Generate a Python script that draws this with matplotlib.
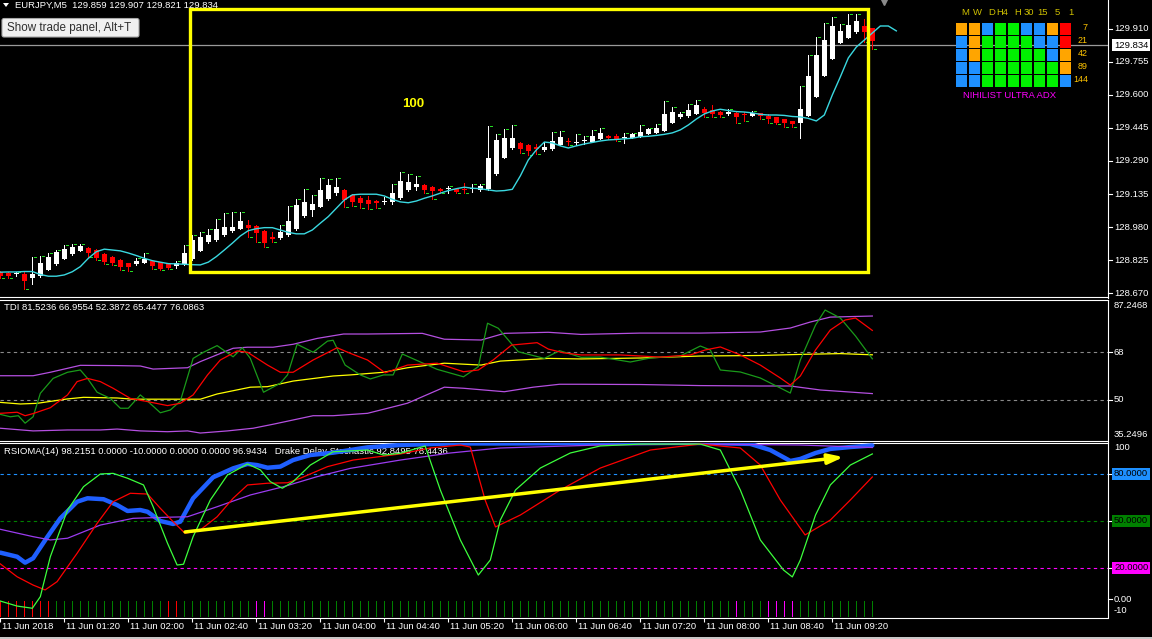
import matplotlib
matplotlib.use('Agg')
import matplotlib.pyplot as plt
import matplotlib.transforms as mtransforms
from matplotlib.patches import Rectangle, FancyBboxPatch, Polygon

W, H, DPI = 1152, 639, 100
FONT = ['Liberation Sans', 'DejaVu Sans']
plt.rcParams['font.family'] = FONT
FS = 6.8
PX = 72.0 / DPI  # one pixel in points

# ---------------- data ----------------
header_text = "EURJPY,M5  129.859 129.907 129.821 129.834"
trade_button = "Show trade panel, Alt+T"

time_labels = ["11 Jun 2018", "11 Jun 01:20", "11 Jun 02:00", "11 Jun 02:40", "11 Jun 03:20",
               "11 Jun 04:00", "11 Jun 04:40", "11 Jun 05:20", "11 Jun 06:00", "11 Jun 06:40",
               "11 Jun 07:20", "11 Jun 08:00", "11 Jun 08:40", "11 Jun 09:20"]
time_label_idx = [0, 8, 16, 24, 32, 40, 48, 56, 64, 72, 80, 88, 96, 104]

opens = [
    128.769, 128.764, 128.760, 128.760, 128.741, 128.750, 128.779, 128.807, 128.830, 128.854,
    128.868, 128.882, 128.872, 128.854, 128.840, 128.825, 128.811, 128.807, 128.811, 128.821,
    128.816, 128.807, 128.797, 128.807, 128.830, 128.868, 128.910, 128.919, 128.943, 128.962,
    128.971, 128.990, 128.985, 128.962, 128.933, 128.929, 128.943, 128.971, 129.032, 129.060,
    129.074, 129.112, 129.140, 129.154, 129.131, 129.117, 129.107, 129.102, 129.096, 129.098,
    129.117, 129.154, 129.168, 129.178, 129.168, 129.159, 129.157, 129.159, 129.156, 129.157,
    129.154, 129.159, 129.229, 129.304, 129.351, 129.375, 129.365, 129.356, 129.342, 129.347,
    129.365, 129.382, 129.376, 129.382, 129.380, 129.394, 129.408, 129.408, 129.396, 129.398,
    129.403, 129.417, 129.422, 129.431, 129.469, 129.497, 129.501, 129.511, 129.534, 129.530,
    129.520, 129.511, 129.516, 129.508, 129.501, 129.516, 129.501, 129.497, 129.487, 129.478,
    129.469, 129.501, 129.591, 129.689, 129.769, 129.844, 129.868, 129.896, 129.924, 129.915,
]
highs = [
    128.774, 128.769, 128.769, 128.769, 128.840, 128.844, 128.858, 128.872, 128.896, 128.900,
    128.900, 128.884, 128.877, 128.858, 128.844, 128.830, 128.811, 128.835, 128.858, 128.821,
    128.816, 128.807, 128.821, 128.896, 128.943, 128.957, 128.971, 129.018, 129.046, 129.051,
    129.051, 129.013, 128.990, 128.966, 128.957, 128.990, 129.079, 129.112, 129.159, 129.131,
    129.210, 129.206, 129.210, 129.159, 129.135, 129.126, 129.126, 129.107, 129.122, 129.182,
    129.239, 129.229, 129.220, 129.182, 129.173, 129.164, 129.173, 129.164, 129.187, 129.182,
    129.182, 129.455, 129.417, 129.441, 129.459, 129.380, 129.370, 129.370, 129.380, 129.426,
    129.431, 129.398, 129.417, 129.408, 129.436, 129.445, 129.412, 129.417, 129.422, 129.422,
    129.459, 129.445, 129.464, 129.572, 129.544, 129.520, 129.558, 129.577, 129.544, 129.553,
    129.525, 129.534, 129.520, 129.520, 129.525, 129.516, 129.511, 129.497, 129.487, 129.478,
    129.642, 129.788, 129.872, 129.938, 129.966, 129.933, 129.980, 129.980, 129.957, 129.915,
]
lows = [
    128.741, 128.741, 128.750, 128.689, 128.713, 128.746, 128.779, 128.802, 128.830, 128.849,
    128.868, 128.840, 128.825, 128.807, 128.802, 128.779, 128.774, 128.802, 128.811, 128.784,
    128.779, 128.784, 128.788, 128.802, 128.825, 128.866, 128.905, 128.915, 128.938, 128.957,
    128.971, 128.933, 128.910, 128.886, 128.910, 128.924, 128.938, 128.966, 129.027, 129.032,
    129.074, 129.107, 129.131, 129.074, 129.079, 129.070, 129.065, 129.070, 129.088, 129.088,
    129.112, 129.149, 129.154, 129.140, 129.112, 129.140, 129.140, 129.140, 129.140, 129.145,
    129.149, 129.154, 129.225, 129.304, 129.347, 129.328, 129.318, 129.323, 129.337, 129.342,
    129.365, 129.365, 129.365, 129.370, 129.380, 129.394, 129.394, 129.384, 129.375, 129.398,
    129.403, 129.417, 129.422, 129.431, 129.469, 129.492, 129.497, 129.511, 129.497, 129.497,
    129.497, 129.506, 129.469, 129.478, 129.501, 129.487, 129.469, 129.464, 129.450, 129.450,
    129.398, 129.501, 129.591, 129.689, 129.769, 129.844, 129.868, 129.891, 129.849, 129.816,
]
closes = [
    128.750, 128.750, 128.762, 128.727, 128.760, 128.811, 128.840, 128.863, 128.877, 128.886,
    128.891, 128.858, 128.835, 128.816, 128.811, 128.793, 128.793, 128.821, 128.830, 128.797,
    128.784, 128.788, 128.811, 128.858, 128.919, 128.933, 128.943, 128.971, 128.980, 128.980,
    129.009, 128.976, 128.952, 128.905, 128.924, 128.957, 129.009, 129.084, 129.098, 129.088,
    129.154, 129.178, 129.168, 129.107, 129.098, 129.093, 129.088, 129.093, 129.100, 129.140,
    129.196, 129.192, 129.182, 129.154, 129.149, 129.149, 129.161, 129.145, 129.152, 129.161,
    129.173, 129.304, 129.389, 129.398, 129.398, 129.347, 129.337, 129.347, 129.356, 129.384,
    129.403, 129.378, 129.380, 129.386, 129.408, 129.422, 129.398, 129.394, 129.400, 129.417,
    129.426, 129.441, 129.445, 129.511, 129.520, 129.511, 129.530, 129.553, 129.516, 129.511,
    129.506, 129.520, 129.497, 129.504, 129.516, 129.501, 129.487, 129.469, 129.469, 129.464,
    129.534, 129.689, 129.788, 129.858, 129.924, 129.901, 129.929, 129.948, 129.896, 129.854,
]
# shifted moving average (extends 3 bars into the future)
ma = [
    128.768, 128.769, 128.769, 128.771, 128.771, 128.757, 128.749, 128.749, 128.755, 128.770,
    128.794, 128.833, 128.864, 128.876, 128.872, 128.868, 128.858, 128.846, 128.833, 128.822,
    128.815, 128.808, 128.807, 128.805, 128.803, 128.802, 128.815, 128.841, 128.872, 128.904,
    128.938, 128.963, 128.972, 128.977, 128.977, 128.966, 128.955, 128.948, 128.948, 128.966,
    128.998, 129.029, 129.068, 129.107, 129.131, 129.134, 129.134, 129.134, 129.126, 129.110,
    129.098, 129.094, 129.102, 129.115, 129.126, 129.139, 129.151, 129.160, 129.167, 129.162,
    129.160, 129.154, 129.149, 129.151, 129.157, 129.220, 129.295, 129.342, 129.379, 129.375,
    129.361, 129.351, 129.361, 129.370, 129.377, 129.384, 129.389, 129.391, 129.394, 129.397,
    129.404, 129.406, 129.410, 129.415, 129.422, 129.436, 129.459, 129.487, 129.511, 129.525,
    129.533, 129.527, 129.522, 129.520, 129.516, 129.509, 129.506, 129.506, 129.504, 129.499,
    129.497, 129.490, 129.478, 129.506, 129.600, 129.685, 129.774, 129.825, 129.858, 129.891,
    129.924, 129.924, 129.901,
]
bid_price = 129.834
price_ticks = [129.910, 129.755, 129.600, 129.445, 129.290, 129.135, 128.980, 128.825, 128.670]
price_ylim = (128.649, 130.046)

box_t0, box_t1 = 23.7, 108.4
box_p0, box_p1 = 128.768, 130.006
box_label, box_label_t, box_label_p = "100", 51.6, 129.558

# TDI
tdi_title = "TDI 81.5236 66.9554 52.3872 65.4477 76.0863"
tdi_up_t = [0, 4.1, 6.25, 10, 14.6, 17.5, 19.1, 23.4, 25, 29.1, 30.9, 34.1, 36.6, 39.6, 42.9, 45.9, 50,
            52.75, 55.5, 60.1, 63, 68.5, 72.6, 80, 87.5, 95, 98.75, 101.25, 103.75, 109]
tdi_up_v = [59.1, 59.1, 60.4, 63.0, 62.9, 62.75, 61.6, 62.1, 64.4, 69.4, 69.8, 69.8, 70.9, 73.1, 74.75,
            74.75, 74.9, 75.0, 72.8, 72.5, 75.0, 75.4, 74.6, 75.1, 75.1, 75.5, 77.0, 79.25, 81.1, 81.5]
tdi_lo_t = [0, 4.1, 8.4, 12.5, 14.6, 17.5, 20.9, 23.4, 25, 28.4, 31.6, 34.1, 36.6, 39.1, 41.6, 45.9, 50,
            50.9, 55.5, 57.9, 63, 66.6, 69.9, 72.6, 80, 87.5, 95, 98.75, 102.5, 109]
tdi_lo_v = [39.4, 38.4, 38.75, 38.75, 39.1, 38.4, 38.1, 38.4, 37.6, 38.4, 39.4, 40.9, 42.5, 44.1, 44.1,
            45.0, 48.1, 48.8, 54.8, 54.4, 53.1, 54.8, 55.9, 55.9, 55.8, 55.4, 55.25, 55.25, 53.75, 52.4]
tdi_mid_t = [0, 2.5, 4.6, 8.4, 10.4, 14.6, 16.6, 25, 27.1, 31.25, 33.4, 36.6, 41.6, 43.75, 47.9, 50.9,
             55.5, 60.1, 62.5, 68.5, 72.6, 80, 87.5, 95, 100, 105, 109]
tdi_mid_v = [49.1, 48.5, 48.75, 50.4, 51.0, 50.75, 50.3, 50.3, 52.25, 54.8, 55.0, 57.1, 59.0, 59.4, 60.4,
             62.1, 63.8, 63.1, 64.6, 65.6, 65.4, 65.75, 66.5, 66.7, 67.1, 67.4, 66.95]
tdi_sig_t = [0, 2.1, 3.1, 4.1, 6.25, 8.4, 9.6, 10.9, 12.5, 14.1, 16.25, 18.4, 20.9, 22.5, 24.1, 25.9, 27.5,
             29.6, 30.9, 33.4, 35, 36.6, 39.1, 42.1, 43.75, 45.9, 48.1, 50.9, 54.6, 57.9, 59.75, 61.6,
             63.9, 67.1, 68.5, 70.4, 72.6, 77.5, 82.5, 86.25, 88.1, 90, 92.5, 95, 97.5, 98.75, 100,
             101.9, 103.75, 105.6, 106.9, 109]
tdi_sig_v = [45.0, 45.4, 44.1, 44.9, 47.1, 51.9, 56.9, 58.1, 56.9, 54.4, 50.6, 49.4, 47.9, 48.75, 51.9,
             59.4, 65.0, 68.4, 67.9, 63.1, 60.4, 60.4, 65.0, 69.6, 67.5, 65.0, 60.2, 63.1, 63.8, 60.6,
             61.25, 65.0, 70.6, 71.5, 69.1, 67.7, 66.9, 66.9, 66.1, 66.9, 68.75, 69.9, 66.9, 63.1,
             58.25, 55.6, 59.0, 68.75, 76.25, 80.0, 80.75, 76.1]
tdi_rsi_t = [0, 1.25, 2.25, 3.1, 4.1, 5, 6.6, 8.4, 10, 10.9, 12.1, 13.75, 15, 16, 17.5, 18.4, 20, 21.25,
             22.5, 24.1, 25.4, 27.1, 29.1, 30.25, 31.25, 32.9, 35, 35.9, 37.1, 39.1, 40.9, 41.6, 43.1,
             45, 46.25, 47.9, 49.1, 50.25, 52.4, 54.6, 57.9, 59.75, 60.9, 62.25, 64.75, 68, 69.9, 72.6,
             75, 78.75, 81.25, 85, 87.5, 88.75, 90, 92.5, 95, 97.5, 98.75, 100, 101.9, 103.1, 105,
             106.9, 109]
tdi_rsi_v = [44.6, 43.7, 44.1, 41.3, 43.7, 52.5, 58.1, 60.4, 61.25, 58.1, 52.9, 50.6, 46.9, 46.9, 51.9,
             49.6, 45.2, 46.25, 49.6, 65.6, 67.9, 70.4, 66.2, 69.6, 65.6, 52.9, 56.3, 59.4, 70.9, 67.9,
             72.1, 72.4, 63.1, 59.4, 57.9, 59.4, 59.4, 67.25, 64.4, 61.5, 58.7, 62.5, 78.8, 76.9, 68.1,
             65.6, 68.5, 66.0, 66.1, 64.25, 65.75, 66.5, 70.25, 68.75, 61.25, 60.5, 58.25, 54.5, 52.6,
             65.0, 78.1, 83.75, 80.75, 74.0, 65.45]
tdi_levels = [68, 50]
tdi_ylim = (34.8, 87.7)

# RSIOMA + Drake Delay Stochastic
rsi_title = "RSIOMA(14) 98.2151 0.0000 -10.0000 0.0000 0.0000 96.9434   Drake Delay Stochastic 92.8495 78.4436"
rsioma_t = [0, 2.1, 3.1, 4.1, 5.9, 7.5, 9.6, 10.9, 12.9, 14.6, 15.9, 17.5, 18.4, 20, 21.6, 22.5, 24.1,
            26.6, 29.1, 30.9, 32.1, 33.4, 35, 36.6, 38.75, 41.6, 45.9, 50, 56.25, 62.5, 75, 87.5, 93.75,
            96.25, 98.75, 100, 101.9, 103.75, 106.25, 109]
rsioma_v = [29.8, 27.2, 23.4, 26.2, 40.0, 51.7, 62.3, 64.5, 63.9, 60.2, 56.4, 57.0, 55.9, 50.0, 48.1,
            49.6, 64.5, 77.9, 83.6, 86.4, 85.7, 84.0, 84.7, 88.9, 92.1, 93.6, 97.0, 98.5, 99.5, 99.5,
            99.8, 99.8, 99.2, 95.3, 88.3, 89.6, 93.4, 96.0, 97.2, 98.2]
rsioma_ma_t = [0, 4.1, 6.25, 8.4, 12.5, 16.6, 20.9, 23.4, 27.1, 31.25, 35.4, 39.6, 43.75, 50, 56.25,
               62.5, 75, 87.5, 100, 109]
rsioma_ma_v = [44.7, 40.0, 37.9, 39.0, 47.4, 51.7, 52.4, 52.7, 59.1, 66.6, 71.9, 78.3, 83.6, 88.9, 93.4,
               96.6, 98.5, 99.1, 98.5, 96.9]
stoch_k_t = [0, 2.1, 4, 5, 6.25, 8.4, 10.4, 12.5, 14.1, 15.9, 17.9, 19.1, 20.9, 22.1, 22.9, 24.1, 26.25,
             28.4, 30.9, 32.5, 33.75, 35.25, 36.6, 38.75, 41.6, 45.9, 47.9, 50, 53.1, 55, 57.5, 59.75,
             61.25, 62.5, 64.4, 67.5, 71.25, 75, 80, 87.5, 90, 92.5, 95, 97.9, 99, 100, 101.9, 103.75,
             106.25, 109]
stoch_k_v = [-1.1, -4.3, -5.7, 1.7, 27.2, 57.0, 71.9, 80.0, 80.4, 77.3, 73.0, 59.1, 35.8, 21.9, 22.4,
             40.0, 63.4, 79.4, 86.4, 82.6, 75.1, 70.9, 75.1, 85.7, 94.2, 95.3, 92.1, 93.2, 97.9, 69.8,
             37.9, 15.5, 25.1, 50.6, 69.8, 83.8, 93.4, 97.9, 99.1, 99.1, 95.3, 69.8, 37.9, 18.7, 14.3,
             25.1, 53.8, 73.0, 85.7, 92.8]
stoch_d_t = [0, 2.1, 4.1, 5.6, 7.1, 9.6, 12.1, 14.1, 16.25, 18.4, 20, 21.6, 23.1, 25, 27.1, 29.1, 30.9,
             33.4, 35.9, 37.5, 40.9, 44.1, 50, 53.75, 57.5, 58.75, 60.6, 61.9, 65, 70, 75, 81.25, 87.5,
             92.5, 95, 97.5, 100.6, 103.75, 106.25, 109]
stoch_d_v = [22.6, 14.4, 9.1, 6.0, 11.3, 29.4, 48.5, 62.3, 67.7, 67.2, 58.1, 49.6, 42.1, 44.3, 52.7,
             64.5, 73.0, 74.1, 74.4, 77.3, 84.7, 88.9, 92.8, 96.6, 98.5, 97.2, 63.4, 46.2, 53.8, 69.8,
             83.8, 95.3, 99.1, 96.6, 85.7, 63.4, 41.1, 50.6, 63.4, 78.1]
hist_red_idx = [0, 1, 2, 3, 4, 5, 6, 21, 22]
hist_mag_idx = [32, 33, 92, 96, 97, 98, 99]
hist_range = (-10.5, -1.0)
rsi_levels = [80, 50, 20]
rsi_level_colors = ['#1e90ff', '#008000', '#ff00ff']
rsi_ylim = (-11.6, 100.1)

arrow_t0, arrow_v0, arrow_t1, arrow_v1 = 23.1, 43.0, 105.4, 90.8

# NIHILIST ULTRA ADX dashboard
tf_labels = ['M', 'W', 'D', 'H4', 'H', '30', '15', '5', '1']
period_labels = ['7', '21', '42', '89', '144']
adx_states = ['OOBGGBBOR',
              'BOGGGGBBR',
              'BOGGGGGBO',
              'BBGGGGGGO',
              'BBGGGGGGB']
state_colors = {'O': '#ffa500', 'B': '#1e90ff', 'G': '#00f000', 'R': '#ff0000'}

# ---------------- figure ----------------
fig = plt.figure(figsize=(W / DPI, H / DPI), dpi=DPI, facecolor='black')
PLOT_R = 1108


def px_axes(x0, y0, x1, y1, **kw):
    return fig.add_axes([x0 / W, 1 - y1 / H, (x1 - x0) / W, (y1 - y0) / H], **kw)


ax1 = px_axes(0, 0, PLOT_R, 297.5)
ax2 = px_axes(0, 299.5, PLOT_R, 440.5)
ax3 = px_axes(0, 442.5, PLOT_R, 617.5)
XMIN = -0.04
XMAX = XMIN + PLOT_R / 8.0
for ax in (ax1, ax2, ax3):
    ax.set_facecolor('black')
    ax.set_xlim(XMIN, XMAX)
    ax.set_xticks([])
    ax.set_yticks([])
    for s in ax.spines.values():
        s.set_color('white')
        s.set_linewidth(0.8)
    ax.spines['left'].set_visible(False)
ax1.spines['top'].set_visible(False)


def rlabel(ax, v, s, va='center', bg=None, fg='white', tick=True):
    tr = ax.get_yaxis_transform()
    if tick:
        ax.plot([1, 1 + 4 / PLOT_R], [v, v], transform=tr, color='white', lw=0.8, clip_on=False)
    kw = {}
    if bg:
        kw['bbox'] = dict(boxstyle='square,pad=0.18', fc=bg, ec='none')
    ax.text(1 + 6 / PLOT_R, v, s, transform=tr, ha='left', va=va, color=fg,
            fontsize=FS, clip_on=False, zorder=10, **kw)


# ----- main price panel -----
idx = list(range(len(opens)))
ups = [c >= o for o, c in zip(opens, closes)]
cols = ['white' if u else '#ff0000' for u in ups]
bottoms = [min(o, c) for o, c in zip(opens, closes)]
heights = [max(abs(c - o), 0.0045) for o, c in zip(opens, closes)]
ax1.vlines(idx, lows, highs, colors=cols, lw=PX, zorder=2, antialiased=False)
ax1.bar(idx, heights, bottom=bottoms, width=0.64, color=cols, linewidth=0, zorder=3, antialiased=False)
dash_lv = [h if u else l for h, l, u in zip(highs, lows, ups)]
ax1.hlines(dash_lv, [i + 0.15 for i in idx], [i + 0.45 for i in idx], colors='#22dd22', lw=PX,
           zorder=4, antialiased=False)
ax1.plot(range(len(ma)), ma, color='#3ad8e0', lw=1.0, zorder=4)
ax1.axhline(bid_price, color='#9a9a9a', lw=0.9, zorder=1)
ax1.add_patch(Rectangle((box_t0, box_p0), box_t1 - box_t0, box_p1 - box_p0, fill=False,
                        ec='#ffff00', lw=2.4, zorder=6))
ax1.text(box_label_t, box_label_p, box_label, color='#ffff00', fontsize=9.5, fontweight='bold',
         ha='center', va='center', zorder=6)
ax1.plot([110.5], [130.036], marker='v', color='#8a8a8a', ms=4, zorder=6, clip_on=False)
ax1.set_ylim(*price_ylim)
for p in price_ticks:
    rlabel(ax1, p, f"{p:.3f}")
rlabel(ax1, bid_price, f"{bid_price:.3f}", bg='white', fg='black', tick=False)

# ----- TDI panel -----
for lv in tdi_levels:
    ax2.axhline(lv, color='#8a8a8a', lw=0.8, ls=(0, (3, 3)), zorder=1)
ax2.plot(tdi_up_t, tdi_up_v, color='#b44fe0', lw=0.9, zorder=2)
ax2.plot(tdi_lo_t, tdi_lo_v, color='#b44fe0', lw=0.9, zorder=2)
ax2.plot(tdi_mid_t, tdi_mid_v, color='#ffff00', lw=0.9, zorder=3)
ax2.plot(tdi_rsi_t, tdi_rsi_v, color='#1a9a1a', lw=0.9, zorder=4)
ax2.plot(tdi_sig_t, tdi_sig_v, color='#ff0000', lw=0.9, zorder=5)
ax2.set_ylim(*tdi_ylim)
ax2.text(4 / PLOT_R, 0.94, tdi_title, transform=ax2.transAxes, color='white', fontsize=FS,
         ha='left', va='center', zorder=1)
rlabel(ax2, tdi_ylim[1] - 0.45, "87.2468", va='top', tick=False)
rlabel(ax2, 68, "68")
rlabel(ax2, 50, "50")
rlabel(ax2, tdi_ylim[0] + 0.45, "35.2496", va='bottom', tick=False)

# ----- RSIOMA panel -----
ax3.text(4 / PLOT_R, 0.951, rsi_title, transform=ax3.transAxes, color='white', fontsize=FS,
         ha='left', va='center', zorder=1)
for lv, c in zip(rsi_levels, rsi_level_colors):
    ax3.axhline(lv, color=c, lw=0.8, ls=(0, (3, 3)), zorder=1)
hist_cols = []
for i in idx:
    if i in hist_red_idx:
        hist_cols.append('#ff0000')
    elif i in hist_mag_idx:
        hist_cols.append('#ff00ff')
    else:
        hist_cols.append('#008000')
ax3.vlines(idx, hist_range[0], hist_range[1], colors=hist_cols, lw=PX, zorder=2, antialiased=False)
ax3.plot(rsioma_t, rsioma_v, color='#1f5fff', lw=3.2, solid_capstyle='round', zorder=3)
ax3.plot(rsioma_ma_t, rsioma_ma_v, color='#9b3cf0', lw=0.9, zorder=4)
ax3.plot(stoch_d_t, stoch_d_v, color='#ff0000', lw=0.9, zorder=5)
ax3.plot(stoch_k_t, stoch_k_v, color='#3cff3c', lw=0.9, zorder=6)
ax3.annotate('', xy=(arrow_t1, arrow_v1), xytext=(arrow_t0, arrow_v0),
             arrowprops=dict(arrowstyle='-|>,head_length=0.9,head_width=0.3', color='#ffff00',
                             lw=2.5, shrinkA=0, shrinkB=0), zorder=8)
ax3.set_ylim(*rsi_ylim)
rlabel(ax3, rsi_ylim[1] - 0.3, "100", va='top', tick=False)
for lv, c in zip(rsi_levels, rsi_level_colors):
    rlabel(ax3, lv, f"{lv:.4f}", bg=c, fg='black')
rlabel(ax3, 0, "0.00")
rlabel(ax3, -10, "-10", va='bottom', tick=False)

# time axis
ax3.set_xticks(time_label_idx)
ax3.tick_params(axis='x', direction='out', length=3, width=0.8, color='white', labelbottom=False)
tr_x = mtransforms.blended_transform_factory(ax3.transData, ax3.transAxes)
for t, s in zip(time_label_idx, time_labels):
    ax3.text(t + 0.2, -0.05, s, transform=tr_x, color='white', fontsize=FS, ha='left',
             va='center', clip_on=False)

# ----- dashboard table -----
tbl = px_axes(955, 22.5, 1072, 87.5)
tbl.set_xlim(0, len(tf_labels))
tbl.set_ylim(len(period_labels), 0)
tbl.axis('off')
for r, row in enumerate(adx_states):
    for c, st in enumerate(row):
        tbl.add_patch(Rectangle((c + 0.04, r + 0.04), 0.92, 0.92, fc=state_colors[st], ec='none'))
for c, s in enumerate(tf_labels):
    tbl.text(c + 1 + 0.1, -0.75, s, ha='right', va='center', color='#cfc000', fontsize=FS,
             clip_on=False)
for r, s in enumerate(period_labels):
    tbl.text(len(tf_labels) + 1.23, r + 0.4, s, ha='right', va='center', color='#ffc400',
             fontsize=FS - 0.4, clip_on=False)
tbl.text(4.19, len(period_labels) + 0.65, "NIHILIST ULTRA ADX", ha='center', va='center',
         color='#ff00ff', fontsize=6.8, clip_on=False)

# ----- pixel overlay: header + button -----
ov = fig.add_axes([0, 0, 1, 1], zorder=20)
ov.set_xlim(0, W)
ov.set_ylim(H, 0)
ov.axis('off')
ov.patch.set_visible(False)
ov.add_patch(Polygon([(3, 3), (9, 3), (6, 7)], closed=True, fc='white', ec='none'))
ov.text(15, 5.5, header_text, color='white', fontsize=FS, ha='left', va='center')
ov.add_patch(FancyBboxPatch((2, 18.5), 137, 18.5, boxstyle='round,pad=0,rounding_size=2',
                            fc='#f0f0f0', ec='#a8a8a8', lw=0.8))
ov.text(7, 27.8, trade_button, color='#303030', fontsize=8.4, ha='left', va='center')
ov.add_patch(Rectangle((0, 636.5), W, 2.5, fc='#c8c8c8', ec='none'))

fig.savefig('out.png', dpi=DPI, facecolor='black')
